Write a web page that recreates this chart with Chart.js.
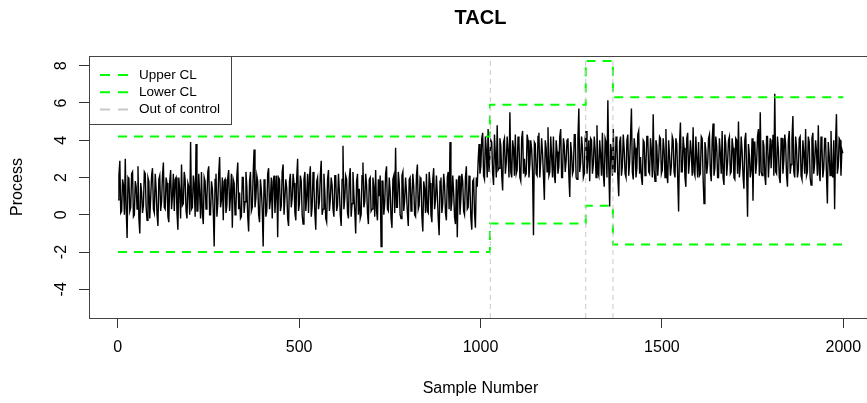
<!DOCTYPE html>
<html>
<head>
<meta charset="utf-8">
<script src="https://cdn.jsdelivr.net/npm/chart.js@4.4.0/dist/chart.umd.min.js"></script>
<style>
  html, body { margin: 0; padding: 0; background: #fff; overflow: hidden; }
  #wrap { width: 867px; height: 403px; overflow: hidden; position: relative; }
  canvas { position: absolute; left: 0; top: 0; }
</style>
</head>
<body>
<div id="wrap"><canvas id="chart" width="880" height="403"></canvas></div>
<script>
// process values, one every 2.5 samples, 100 samples per row
const process = [
  0.8, 2.1, 2.9, 0.1, 0.2, 1.9, 1.6, 0.0, 3.0, 0.3, -1.25, 2.0, 1.9, 0.2, 0.4, 2.2, 2.3, -0.1, 0.0, 1.8, 1.5, 0.3, 2.6, -0.2, -1.0, 1.7, 1.2, 0.1, 0.5, 2.3, 2.2, 0.4, -0.3, 2.0, 1.8, -0.2, 0.9, 2.1, 2.5, 0.3,
  0.1, 2.2, 1.4, 0.0, -0.6, 1.9, 2.1, 0.2, 0.7, 2.1, 2.8, 0.4, 0.3, 2.0, 1.7, -0.1, -0.4, 1.8, 2.4, 0.3, 1.0, 2.2, 0.2, 1.9, 2.0, 0.1, -0.8, 2.0, 1.3, -0.2, 2.7, 0.5, 0.6, 2.3, 1.9, 0.2, -0.2, 1.7, 1.5, 0.0,
  3.9, 0.3, 0.4, 2.1, 1.6, -0.1, 3.8, 0.2, 0.2, 2.2, 1.1, -0.2, 2.3, 0.1, -0.5, 2.0, 1.8, 0.3, 0.9, 2.3, 2.6, 0.0, 0.0, 1.8, 1.4, 0.2, -1.7, 1.9, 2.2, -0.1, 0.6, 2.2, 3.1, 0.4, 0.8, 2.0, -0.3, 1.8, 1.9, 0.1,
  0.5, 2.0, 2.4, 0.2, 1.0, 2.2, -0.7, 1.9, 1.7, 0.0, 0.3, 2.1, 2.8, 0.3, 1.2, -0.2, -0.1, 2.0, 2.0, 0.1, 0.7, 2.3, 1.5, -0.1, -0.9, 1.8, 2.3, 0.2, 0.4, 2.2, 3.5, 0.4, 0.9, 2.1, 1.8, 0.0, -0.4, 1.9, 1.3, 0.3,
  -1.7, 1.9, 1.6, -0.1, 0.2, 2.2, 2.5, 0.3, 0.8, 2.0, -0.2, 1.8, 2.1, 0.1, 1.1, 2.1, -1.2, 2.0, 1.9, 0.2, 0.5, 2.3, 2.7, 0.0, 0.0, 1.9, 1.4, -0.2, -0.6, 1.8, 2.2, 0.4, 0.9, 2.2, 1.7, 0.1, -0.3, 2.0, 3.0, 0.2,
  0.6, 2.1, 1.8, 0.0, -0.5, 1.9, 2.3, 0.2, 1.0, 2.2, 0.1, 2.0, 2.6, -0.1, 0.4, 2.3, 1.5, 0.1, -0.8, 1.8, 2.0, 0.3, 0.7, 2.1, 2.9, 0.0, 0.3, 2.2, 1.2, -0.2, -0.4, 1.9, 2.4, 0.2, 0.8, 2.0, 1.6, 0.3, -0.1, 2.1,
  2.1, 0.2, 0.5, 2.2, 1.3, 0.0, -0.6, 1.9, 3.7, 0.3, 0.9, 2.1, 1.9, 0.1, -0.2, 2.0, 2.5, -0.1, 0.6, 2.3, 1.1, 0.2, -1.0, 1.8, 2.2, 0.0, 1.4, -0.2, 0.0, 2.1, 2.8, 0.4, 0.7, 2.2, 1.6, 0.1, -0.5, 1.9, 2.0, 0.2,
  0.3, 2.0, 1.5, -0.1, 2.4, 0.2, -0.3, 1.9, 1.0, 2.1, -1.7, 1.8, 1.8, 0.0, 0.6, 2.2, 2.6, 0.3, 0.2, 2.0, 1.3, -0.2, -0.7, 1.9, 2.1, 0.1, 3.6, 0.4, 0.4, 2.3, 1.7, 0.0, -0.2, 2.1, 2.3, 0.2, 0.8, 2.0, 1.2, 0.1,
  -0.6, 1.9, 2.0, 0.2, 0.9, 2.2, 1.5, 0.0, -0.1, 2.1, 2.7, 0.3, 0.5, 2.0, 1.9, -0.1, -0.9, 1.8, 1.4, 0.1, 2.2, 0.2, 0.1, 2.3, 1.7, 0.0, -0.4, 1.9, 2.5, 0.3, 0.8, 2.1, 1.1, -0.2, -1.1, 1.8, 2.0, 0.1, 0.6, 2.2,
  1.6, 0.1, -0.3, 2.0, 2.3, 0.3, 3.9, 0.2, 0.7, 2.1, 1.2, -0.1, -0.5, 1.9, -1.2, 1.8, 2.1, 0.0, 0.9, 2.2, 1.8, 0.2, 0.0, 2.0, 2.6, 0.3, 0.4, 2.1, 1.4, -0.2, -0.8, 1.8, 1.9, 0.1, -0.7, 2.0, 1.5, 2.9, 3.8, 2.2,
  2.6, 4.1, 4.4, 2.1, 1.9, 4.2, 3.5, 2.0, 4.6, 2.3, 2.3, 4.0, 3.9, 2.2, 1.6, 4.3, 3.2, 2.0, 4.8, 2.4, 2.5, 4.1, 3.7, 2.1, 1.3, 3.9, 4.1, 2.2, 2.8, 4.2, 3.4, 2.0, 5.5, 2.3, 2.0, 4.0, 3.6, 2.1, 4.3, 2.2,
  2.4, 4.2, 3.9, 2.0, 1.8, 4.1, 4.5, 2.2, 3.0, 2.1, 2.2, 4.3, 4.0, 2.0, 2.7, 4.0, 3.5, 2.3, -1.1, 3.9, 3.8, 2.2, 2.1, 4.2, 4.4, 2.0, 2.9, 4.1, 3.3, 2.1, 0.8, 4.0, 3.6, 2.3, 4.7, 2.1, 2.3, 4.2, 3.1, 2.0,
  4.2, 2.1, 1.7, 4.0, 3.4, 2.2, 2.6, 4.2, 4.6, 2.0, 2.0, 4.1, 3.7, 2.3, 2.9, 4.0, 4.1, 2.1, 0.95, 3.9, 3.3, 2.2, 2.4, 4.3, 4.3, 2.0, 1.9, 4.1, 5.7, 2.3, 2.8, 4.2, 3.6, 2.0, 2.2, 4.1, 4.5, 2.2, 3.0, 4.0,
  1.8, 4.1, 4.0, 2.2, 2.7, 4.2, 3.5, 2.0, 4.8, 2.3, 2.1, 4.0, 3.2, 2.1, 4.4, 2.2, 1.5, 4.1, 3.9, 2.0, 6.15, 2.6, 0.45, 3.8, 3.4, 2.1, 4.6, 2.3, 2.3, 4.2, 3.8, 2.0, 1.0, 3.9, 4.2, 2.1, 2.6, 4.3, 3.5, 2.2,
  2.0, 4.0, 4.3, 2.1, 2.8, 4.2, 5.7, 2.3, 1.9, 4.1, 3.6, 2.0, 2.5, 4.3, 4.5, 2.2, 3.1, 2.0, 1.6, 4.0, 3.9, 2.1, 2.7, 4.2, 4.2, 2.3, 2.2, 4.1, 3.4, 2.0, 5.4, 2.4, 1.8, 4.0, 3.7, 2.1, 2.9, 4.2, 4.1, 2.2,
  2.4, 4.1, 3.5, 2.0, 4.6, 2.2, 1.7, 4.0, 3.2, 2.1, 2.6, 4.2, 4.0, 2.3, 2.0, 4.1, 3.8, 2.0, 0.17, 3.8, 4.95, 2.3, 2.3, 4.2, 3.6, 2.0, 1.5, 4.1, 4.4, 2.2, 2.9, 4.0, 3.3, 2.1, 4.7, 2.3, 2.1, 4.2, 3.0, 2.0,
  3.9, 2.1, 2.2, 4.2, 4.1, 2.0, 0.6, 3.9, 3.5, 2.2, 2.7, 4.1, 4.3, 2.3, 1.8, 4.0, 4.9, 2.1, 2.5, 4.2, 3.7, 2.0, 2.0, 4.1, 3.3, 2.2, 4.5, 2.0, 1.6, 4.3, 3.8, 2.1, 2.8, 4.0, 4.2, 2.2, 2.3, 4.1, 3.6, 2.0,
  1.9, 4.1, 4.0, 2.2, 5.0, 2.0, 2.6, 4.2, 3.4, 2.1, 1.4, 4.0, 4.4, 2.3, -0.1, 3.8, 3.2, 2.0, 2.4, 4.1, 0.75, 3.9, 3.9, 2.2, 2.8, 4.2, 4.6, 2.1, 5.5, 2.3, 2.1, 4.0, 3.7, 2.1, 1.6, 4.2, 4.2, 2.0, 3.0, 4.1,
  2.5, 4.0, 4.3, 2.1, 6.5, 2.3, 2.2, 4.2, 3.5, 2.0, 1.7, 4.1, 4.1, 2.2, 2.9, 4.3, 3.8, 2.1, 1.5, 4.0, 4.5, 2.2, 2.7, 4.1, 5.3, 2.3, 2.0, 4.2, 3.6, 2.0, 2.4, 4.1, 4.2, 2.1, 1.9, 4.0, 3.3, 2.2, 4.6, 2.1,
  2.3, 4.2, 3.9, 2.0, 1.6, 4.1, 4.4, 2.2, 2.8, 4.0, 3.4, 2.1, 4.8, 2.3, 1.8, 4.2, 3.7, 2.0, 2.5, 4.1, 4.1, 2.2, 0.6, 3.9, 3.2, 2.1, 4.5, 2.3, 2.0, 4.0, 0.3, 3.8, 5.4, 2.2, 2.6, 4.1, 4.0, 2.1, 3.5, 3.3
];
const firstSample = 1;
const sampleStep = 2.5;

// control limits, one value per segment between breaks
const limitBreaks = [1, 1026, 1290, 1365, 2000];
const upperCL = [4.2, 5.9, 8.25, 6.3];
const lowerCL = [-2.0, -0.47, 0.48, -1.6];
const outOfControl = [1027, 1290, 1365];

const xTicks = [0, 500, 1000, 1500, 2000];
const yTicks = [-4, -2, 0, 2, 4, 6, 8];
const X_MIN = -79, X_MAX = 2079, Y_MIN = -5.54, Y_MAX = 8.52;

const FONT = '"Liberation Sans", Arial, sans-serif';
Chart.defaults.font.family = FONT;
Chart.defaults.color = '#000';

const stepLine = vals => limitBreaks.map((b, i) => ({ x: b, y: vals[Math.min(i, vals.length - 1)] }));
const series = process.map((v, i) => ({ x: firstSample + i * sampleStep, y: v }));

const datasets = [
  { data: series, borderColor: '#000', borderWidth: 1.4, order: 3 },
  { data: stepLine(upperCL), borderColor: '#00ff00', borderWidth: 2, borderDash: [9, 7], stepped: true, order: 2 },
  { data: stepLine(lowerCL), borderColor: '#00ff00', borderWidth: 2, borderDash: [9, 7], stepped: true, order: 2 },
  ...outOfControl.map(x => ({
    data: [{ x, y: Y_MIN }, { x, y: Y_MAX }],
    borderColor: '#c8c8c8', borderWidth: 1, borderDash: [5, 4], order: 1,
  })),
];

const legendItems = [
  { label: 'Upper CL', color: '#00ff00' },
  { label: 'Lower CL', color: '#00ff00' },
  { label: 'Out of control', color: '#c8c8c8' },
];

// R-style box, title, axis titles, rotated y labels and legend
const rDecor = {
  id: 'rDecor',
  afterDraw(chart) {
    const { ctx, chartArea: a, scales } = chart;
    ctx.save();
    ctx.strokeStyle = '#444';
    ctx.lineWidth = 1;
    ctx.strokeRect(Math.round(a.left) + 0.5, Math.round(a.top) + 0.5,
      Math.round(a.right - a.left), Math.round(a.bottom - a.top));

    ctx.fillStyle = '#000';
    ctx.textAlign = 'center';
    ctx.textBaseline = 'middle';
    const cx = (a.left + a.right) / 2;
    ctx.font = 'bold 20px ' + FONT;
    ctx.fillText('TACL', cx, 18);
    ctx.font = '16px ' + FONT;
    ctx.fillText('Sample Number', cx, 389);

    ctx.save();
    ctx.translate(18, (a.top + a.bottom) / 2);
    ctx.rotate(-Math.PI / 2);
    ctx.fillText('Process', 0, 0);
    ctx.restore();

    yTicks.forEach(v => {
      ctx.save();
      ctx.translate(62, scales.y.getPixelForValue(v));
      ctx.rotate(-Math.PI / 2);
      ctx.fillText(String(v), 0, 0);
      ctx.restore();
    });

    // legend
    const lx = Math.round(a.left) + 0.5, ly = Math.round(a.top) + 0.5;
    ctx.fillStyle = '#fff';
    ctx.fillRect(lx, ly, 142, 68);
    ctx.strokeStyle = '#444';
    ctx.strokeRect(lx, ly, 142, 68);
    ctx.font = '13.5px ' + FONT;
    ctx.textAlign = 'left';
    legendItems.forEach((it, i) => {
      const y = 75 + i * 17.3;
      ctx.strokeStyle = it.color;
      ctx.lineWidth = 2;
      ctx.setLineDash([10, 8]);
      ctx.beginPath();
      ctx.moveTo(100, y);
      ctx.lineTo(128, y);
      ctx.stroke();
      ctx.setLineDash([]);
      ctx.fillStyle = '#000';
      ctx.fillText(it.label, 139, y);
    });
    ctx.restore();
  },
};

new Chart(document.getElementById('chart'), {
  type: 'line',
  data: { datasets },
  options: {
    responsive: false,
    animation: false,
    devicePixelRatio: 1,
    layout: { padding: { left: 0, top: 56, right: 8, bottom: 0 } },
    elements: { point: { radius: 0 }, line: { tension: 0 } },
    plugins: { legend: { display: false }, tooltip: { enabled: false } },
    scales: {
      x: {
        type: 'linear', min: X_MIN, max: X_MAX,
        afterBuildTicks: s => { s.ticks = xTicks.map(v => ({ value: v })); },
        afterFit: s => { s.height = 85; },
        grid: { drawOnChartArea: false, drawTicks: true, tickLength: 10, color: '#333' },
        border: { display: false },
        ticks: { font: { size: 16 }, color: '#000', padding: 10, maxRotation: 0, callback: v => String(v) },
      },
      y: {
        type: 'linear', min: Y_MIN, max: Y_MAX,
        afterBuildTicks: s => { s.ticks = yTicks.map(v => ({ value: v })); },
        afterFit: s => { s.width = 89; },
        grid: { drawOnChartArea: false, drawTicks: true, tickLength: 10, color: '#333' },
        border: { display: false },
        ticks: { display: false },
      },
    },
  },
  plugins: [rDecor],
});
</script>
</body>
</html>
